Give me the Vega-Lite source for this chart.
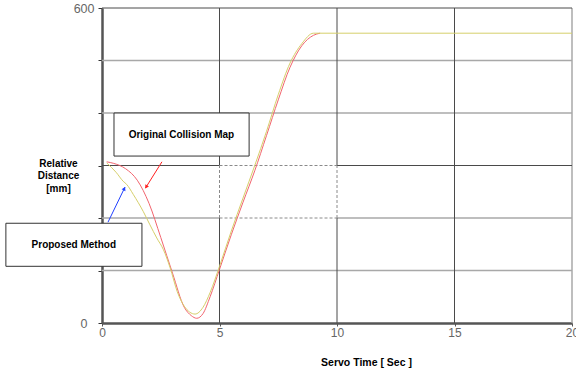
{
  "$schema": "https://vega.github.io/schema/vega-lite/v6.json",
  "width": 470,
  "height": 315,
  "autosize": "none",
  "padding": {"left": 102, "top": 8, "right": 4, "bottom": 48},
  "background": "white",
  "config": {"view": {"stroke": null}, "font": "Liberation Sans"},
  "datasets": {
    "curves": [
      {"t": 0.2, "v": 307, "s": "Original Collision Map"},
      {"t": 0.5, "v": 304, "s": "Original Collision Map"},
      {"t": 1.0, "v": 294, "s": "Original Collision Map"},
      {"t": 1.5, "v": 272, "s": "Original Collision Map"},
      {"t": 2.0, "v": 228, "s": "Original Collision Map"},
      {"t": 2.5, "v": 163, "s": "Original Collision Map"},
      {"t": 3.0, "v": 95, "s": "Original Collision Map"},
      {"t": 3.5, "v": 30, "s": "Original Collision Map"},
      {"t": 3.8, "v": 14, "s": "Original Collision Map"},
      {"t": 4.03, "v": 9, "s": "Original Collision Map"},
      {"t": 4.3, "v": 18, "s": "Original Collision Map"},
      {"t": 4.6, "v": 50, "s": "Original Collision Map"},
      {"t": 5.0, "v": 102, "s": "Original Collision Map"},
      {"t": 5.5, "v": 168, "s": "Original Collision Map"},
      {"t": 6.0, "v": 230, "s": "Original Collision Map"},
      {"t": 6.5, "v": 290, "s": "Original Collision Map"},
      {"t": 7.0, "v": 357, "s": "Original Collision Map"},
      {"t": 7.5, "v": 425, "s": "Original Collision Map"},
      {"t": 8.0, "v": 487, "s": "Original Collision Map"},
      {"t": 8.5, "v": 528, "s": "Original Collision Map"},
      {"t": 9.0, "v": 548, "s": "Original Collision Map"},
      {"t": 9.28, "v": 552, "s": "Original Collision Map"},
      {"t": 0.2, "v": 305, "s": "Proposed Method"},
      {"t": 0.6, "v": 287, "s": "Proposed Method"},
      {"t": 0.9, "v": 270, "s": "Proposed Method"},
      {"t": 1.05, "v": 264, "s": "Proposed Method"},
      {"t": 1.33, "v": 245, "s": "Proposed Method"},
      {"t": 1.76, "v": 212, "s": "Proposed Method"},
      {"t": 2.04, "v": 187, "s": "Proposed Method"},
      {"t": 2.33, "v": 162, "s": "Proposed Method"},
      {"t": 2.61, "v": 140, "s": "Proposed Method"},
      {"t": 2.9, "v": 105, "s": "Proposed Method"},
      {"t": 3.2, "v": 60, "s": "Proposed Method"},
      {"t": 3.5, "v": 32, "s": "Proposed Method"},
      {"t": 3.96, "v": 17, "s": "Proposed Method"},
      {"t": 4.3, "v": 30, "s": "Proposed Method"},
      {"t": 4.6, "v": 58, "s": "Proposed Method"},
      {"t": 5.0, "v": 108, "s": "Proposed Method"},
      {"t": 5.5, "v": 175, "s": "Proposed Method"},
      {"t": 6.0, "v": 238, "s": "Proposed Method"},
      {"t": 6.5, "v": 300, "s": "Proposed Method"},
      {"t": 7.0, "v": 365, "s": "Proposed Method"},
      {"t": 7.5, "v": 435, "s": "Proposed Method"},
      {"t": 8.0, "v": 495, "s": "Proposed Method"},
      {"t": 8.5, "v": 532, "s": "Proposed Method"},
      {"t": 9.0, "v": 552, "s": "Proposed Method"},
      {"t": 20, "v": 552, "s": "Proposed Method"}
    ],
    "lightGrid": [
      {"x": 0, "x2": 5, "y": 100, "y2": 100},
      {"x": 5, "x2": 20, "y": 100, "y2": 100},
      {"x": 0, "x2": 5, "y": 200, "y2": 200},
      {"x": 10, "x2": 20, "y": 200, "y2": 200},
      {"x": 0, "x2": 20, "y": 400, "y2": 400},
      {"x": 0, "x2": 20, "y": 500, "y2": 500},
      {"x": 20, "x2": 20, "y": 0, "y2": 600}
    ],
    "darkGrid": [
      {"x": 5, "x2": 5, "y": 0, "y2": 200},
      {"x": 5, "x2": 5, "y": 300, "y2": 600},
      {"x": 10, "x2": 10, "y": 0, "y2": 200},
      {"x": 10, "x2": 10, "y": 300, "y2": 600},
      {"x": 15, "x2": 15, "y": 0, "y2": 600},
      {"x": 0, "x2": 5, "y": 300, "y2": 300},
      {"x": 10, "x2": 20, "y": 300, "y2": 300},
      {"x": 0, "x2": 20, "y": 600, "y2": 600}
    ],
    "dashGrid": [
      {"x": 5, "x2": 5, "y": 200, "y2": 300},
      {"x": 10, "x2": 10, "y": 200, "y2": 300},
      {"x": 5, "x2": 10, "y": 300, "y2": 300},
      {"x": 5, "x2": 10, "y": 200, "y2": 200}
    ],
    "boxes": [
      {"x": 0.51, "x2": 6.26, "y": 400, "y2": 318, "tx": 3.38, "ty": 359, "label": "Original Collision Map"},
      {"x": -4.09, "x2": 1.7, "y": 190, "y2": 108, "tx": -1.2, "ty": 149, "label": "Proposed Method"}
    ],
    "arrows": [
      {"x": 2.55, "y": 307, "x2": 1.85, "y2": 257, "hx": 1.88, "hy": 259, "ang": 212, "s": "Original Collision Map"},
      {"x": 0.255, "y": 192, "x2": 0.98, "y2": 259, "hx": 0.95, "hy": 256, "ang": 26, "s": "Proposed Method"}
    ]
  },
  "encoding": {
    "x": {
      "field": "x", "type": "quantitative",
      "scale": {"domain": [0, 20], "nice": false, "zero": false}
    },
    "y": {
      "field": "y", "type": "quantitative",
      "scale": {"domain": [0, 600], "nice": false}
    }
  },
  "layer": [
    {
      "data": {"name": "lightGrid"},
      "mark": {"type": "rule", "color": "#a8a8a8", "strokeWidth": 1.5},
      "encoding": {
        "x": {"field": "x", "type": "quantitative", "scale": {"domain": [0, 20], "nice": false, "zero": false},
          "axis": {
            "values": [0, 5, 10, 15, 20], "title": "Servo Time [ Sec ]",
            "grid": false, "domainColor": "#555555", "domainWidth": 2.5,
            "tickColor": "#555555", "tickSize": 3, "labelPadding": 1,
            "labelColor": "#666666", "labelFontSize": 12, "labelFont": "Liberation Sans",
            "labelFlush": false, "labelOverlap": false,
            "titleFont": "Liberation Sans", "titleFontWeight": "bold", "titleFontSize": 10.5, "titleColor": "#000000",
            "titleX": 264, "titleY": 39, "titleAlign": "center", "titleBaseline": "middle"
          }},
        "x2": {"field": "x2"},
        "y": {"field": "y", "type": "quantitative", "scale": {"domain": [0, 600], "nice": false},
          "axis": {
            "values": [0, 100, 200, 300, 400, 500, 600],
            "labelExpr": "datum.value == 0 || datum.value == 600 ? datum.label : ''",
            "title": ["Relative", "Distance", "[mm]"],
            "grid": false, "domainColor": "#555555", "domainWidth": 2.5,
            "tickColor": "#333333", "tickSize": 4,
            "labelPadding": {"condition": {"test": "datum.value == 0", "value": 11}, "value": 4},
            "labelColor": "#666666", "labelFontSize": 12.5, "labelFont": "Liberation Sans",
            "labelFlush": false, "labelOverlap": false,
            "titleFont": "Liberation Sans", "titleFontWeight": "bold", "titleFontSize": 10, "titleColor": "#000000",
            "titleAngle": 0, "titleX": -44, "titleY": 155, "titleAlign": "center", "titleBaseline": "middle",
            "titleLineHeight": 12.5
          }},
        "y2": {"field": "y2"}
      }
    },
    {
      "data": {"name": "darkGrid"},
      "mark": {"type": "rule", "color": "#4a4a4a", "strokeWidth": 1},
      "encoding": {"x2": {"field": "x2"}, "y2": {"field": "y2"}}
    },
    {
      "data": {"name": "dashGrid"},
      "mark": {"type": "rule", "color": "#8a8a8a", "strokeWidth": 1, "strokeDash": [3, 2]},
      "encoding": {"x2": {"field": "x2"}, "y2": {"field": "y2"}}
    },
    {
      "data": {"name": "curves"},
      "mark": {"type": "line", "strokeWidth": 1, "interpolate": "monotone"},
      "encoding": {
        "x": {"field": "t", "type": "quantitative"},
        "y": {"field": "v", "type": "quantitative"},
        "color": {"field": "s", "type": "nominal",
          "scale": {"domain": ["Original Collision Map", "Proposed Method"], "range": ["#f2646e", "#d6cf6a"]},
          "legend": null}
      }
    },
    {
      "data": {"name": "boxes"},
      "mark": {"type": "rect", "fill": "white", "stroke": "#333333", "strokeWidth": 1},
      "encoding": {"x2": {"field": "x2"}, "y2": {"field": "y2"}}
    },
    {
      "data": {"name": "boxes"},
      "mark": {"type": "text", "font": "Liberation Sans", "fontWeight": "bold", "fontSize": 10, "color": "#000000", "align": "center", "baseline": "middle"},
      "encoding": {
        "x": {"field": "tx", "type": "quantitative"},
        "y": {"field": "ty", "type": "quantitative"},
        "text": {"field": "label"}
      }
    },
    {
      "data": {"name": "arrows"},
      "mark": {"type": "rule", "strokeWidth": 1},
      "encoding": {
        "x2": {"field": "x2"}, "y2": {"field": "y2"},
        "color": {"field": "s", "type": "nominal",
          "scale": {"domain": ["Original Collision Map", "Proposed Method"], "range": ["#ff2020", "#2040ff"]},
          "legend": null}
      }
    },
    {
      "data": {"name": "arrows"},
      "mark": {"type": "point", "shape": "triangle-up", "filled": true, "size": 18, "opacity": 1},
      "encoding": {
        "x": {"field": "hx", "type": "quantitative"},
        "y": {"field": "hy", "type": "quantitative"},
        "angle": {"field": "ang", "type": "quantitative", "scale": null},
        "color": {"field": "s", "type": "nominal",
          "scale": {"domain": ["Original Collision Map", "Proposed Method"], "range": ["#ff2020", "#2040ff"]},
          "legend": null}
      }
    }
  ],
  "resolve": {"scale": {"color": "independent"}}
}
